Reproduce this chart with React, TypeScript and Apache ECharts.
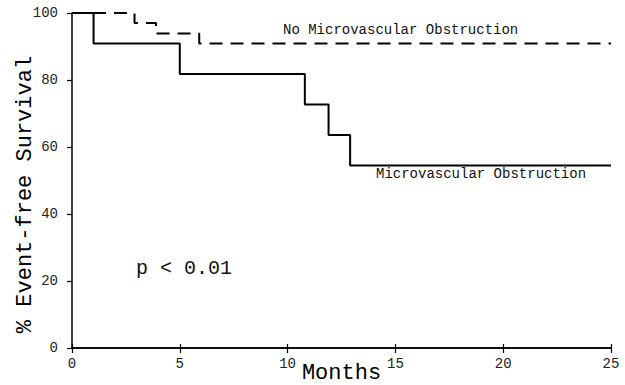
import React, { useEffect, useRef } from "react";
import * as echarts from "echarts";

const mvoMonths = [0, 1, 5, 10.8, 11.9, 12.9, 25];
const mvoSurvival = [100, 90.9, 81.8, 72.7, 63.6, 54.5, 54.5];
const noMvoMonths = [0, 2.9, 3.9, 5.9, 25];
const noMvoSurvival = [100, 97, 93.9, 90.9, 90.9];

const xTicks = [0, 5, 10, 15, 20, 25];
const yTicks = [0, 20, 40, 60, 80, 100];

const FONT = "'Liberation Mono', 'DejaVu Sans Mono', monospace";

export default function App() {
  const ref = useRef<HTMLDivElement>(null);
  useEffect(() => {
    if (!ref.current) return;
    const chart = echarts.init(ref.current, null, { renderer: "svg" });
    const xAxisBase = {
      type: "value",
      min: xTicks[0],
      max: xTicks[xTicks.length - 1],
      interval: 5,
      splitLine: { show: false },
      axisLine: { lineStyle: { color: "#000", width: 1.5 } },
    };
    chart.setOption({
      animation: false,
      backgroundColor: "#fff",
      grid: { left: 72, right: 14, top: 13, bottom: 37, containLabel: false, outerBoundsMode: "none" },
      xAxis: [
        {
          ...xAxisBase,
          name: "Months",
          nameLocation: "middle",
          nameGap: 14,
          nameMoveOverlap: false,
          nameTextStyle: { fontFamily: FONT, fontSize: 22, lineHeight: 22, color: "#000" },
          axisTick: { show: true, length: 5, lineStyle: { color: "#000", width: 1.2 } },
          axisLabel: { margin: 9, fontFamily: FONT, fontSize: 14, color: "#222" },
        },
        {
          ...xAxisBase,
          position: "bottom",
          axisTick: { show: true, inside: true, length: 4, lineStyle: { color: "#000", width: 1.2 } },
          axisLabel: { show: false },
        },
      ],
      yAxis: {
        type: "value",
        min: yTicks[0],
        max: yTicks[yTicks.length - 1],
        interval: 20,
        name: "% Event-free Survival",
        nameLocation: "middle",
        nameGap: 36,
        nameMoveOverlap: false,
        nameTextStyle: { fontFamily: FONT, fontSize: 22, color: "#000", padding: [0, 28, 0, 0] },
        splitLine: { show: false },
        axisLine: { show: true, lineStyle: { color: "#000", width: 1.5 } },
        axisTick: { show: true, length: 5, lineStyle: { color: "#000", width: 1.2 } },
        axisLabel: { margin: 14, fontFamily: FONT, fontSize: 14, color: "#222" },
      },
      series: [
        {
          type: "line",
          step: "end",
          showSymbol: false,
          data: mvoMonths.map((m, i) => [m, mvoSurvival[i]]),
          lineStyle: { color: "#000", width: 2 },
        },
        {
          type: "line",
          step: "end",
          showSymbol: false,
          data: noMvoMonths.map((m, i) => [m, noMvoSurvival[i]]),
          lineStyle: { color: "#000", width: 2, type: [13, 8] },
        },
      ],
      graphic: [
        {
          type: "text",
          x: 283,
          y: 30,
          style: {
            text: "No Microvascular Obstruction",
            fontFamily: FONT,
            fontSize: 14,
            fill: "#111",
            verticalAlign: "middle",
          },
        },
        {
          type: "text",
          x: 376,
          y: 174,
          style: {
            text: "Microvascular Obstruction",
            fontFamily: FONT,
            fontSize: 14,
            fill: "#111",
            verticalAlign: "middle",
          },
        },
        {
          type: "text",
          x: 136,
          y: 268,
          style: {
            text: "p < 0.01",
            fontFamily: FONT,
            fontSize: 20,
            fill: "#111",
            verticalAlign: "middle",
          },
        },
      ],
    });
    return () => chart.dispose();
  }, []);
  return <div ref={ref} style={{ width: 625, height: 385, position: "absolute", left: 0, top: 0 }} />;
}
